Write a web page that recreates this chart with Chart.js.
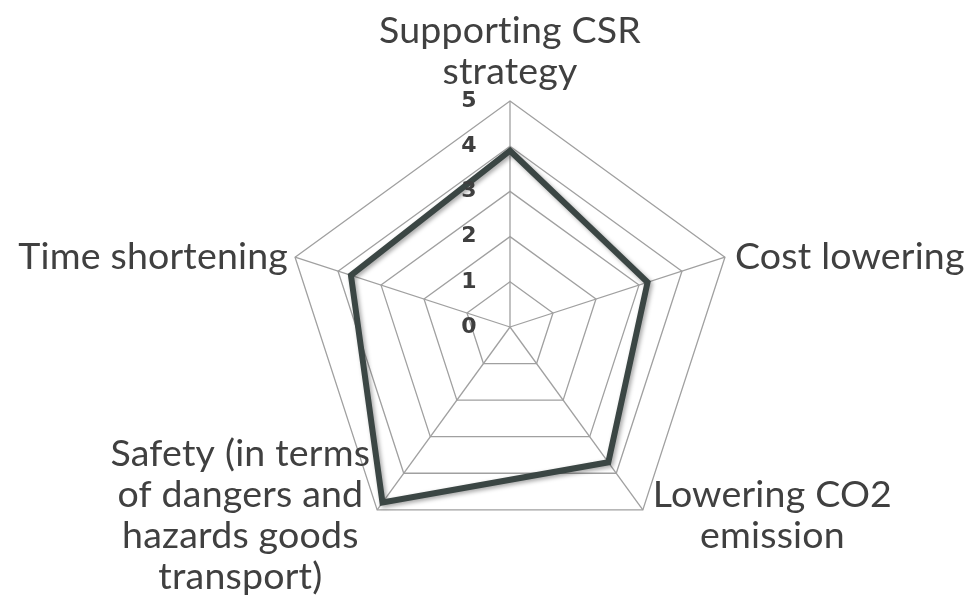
<!DOCTYPE html>
<html>
<head>
<meta charset="utf-8">
<script src="https://cdn.jsdelivr.net/npm/chart.js@4/dist/chart.umd.min.js"></script>
<style>
  html, body { margin: 0; padding: 0; background: #ffffff; }
  #wrap { width: 979px; height: 605px; position: relative; }
</style>
</head>
<body>
<div id="wrap"><canvas id="radarChart"></canvas></div>
<script>
// dữ liệu của biểu đồ
const categories = [
    ['Supporting CSR', 'strategy'],
    ['Cost lowering'],
    ['Lowering CO2', 'emission'],
    ['Safety (in terms', 'of dangers and', 'hazards goods', 'transport)'],
    ['Time shortening']
];
const seriesValues = [3.9, 3.2, 3.7, 4.8, 3.7];
const tickLabels = ['0', '1', '2', '3', '4', '5'];

const LABEL_FONT = '37.5px Lato, "Open Sans", sans-serif';
const LINE_H = 41;

// vẽ nhãn trục (0..5) lệch sang trái trục dọc, chữ đậm
// và nhãn các đỉnh theo kiểu Excel (khối chữ căn giữa)
const labelPlugin = {
    id: 'labelPlugin',
    afterDraw(chart) {
        const scale = chart.scales.r;
        const ctx = chart.ctx;
        ctx.save();
        ctx.font = 'bold 22px "DejaVu Sans", sans-serif';
        ctx.fillStyle = '#3f3f3f';
        ctx.textAlign = 'center';
        ctx.textBaseline = 'middle';
        tickLabels.forEach(function (t, i) {
            const d = scale.getDistanceFromCenterForValue(i);
            ctx.fillText(t, scale.xCenter - 41, scale.yCenter - d);
        });

        ctx.font = LABEL_FONT;
        ctx.fillStyle = '#404040';
        if ('letterSpacing' in ctx) ctx.letterSpacing = '0.2px'; // tắt chữ ghép "ti"
        categories.forEach(function (lines, i) {
            const p = scale.getPointPosition(i, scale.drawingArea);
            const blockW = Math.max.apply(null, lines.map(l => ctx.measureText(l).width));
            const blockH = lines.length * LINE_H;
            let cx, top;
            if (Math.abs(p.x - scale.xCenter) < 2) {
                cx = p.x;
            } else if (p.x > scale.xCenter) {
                cx = p.x + 10 + blockW / 2;
            } else {
                cx = p.x - 7 - blockW / 2;
            }
            if (p.y < scale.yCenter - scale.drawingArea * 0.9) {
                top = p.y - 9 - blockH;           // nhãn trên cùng nằm phía trên đỉnh
            } else if (p.y > scale.yCenter) {
                top = p.y + 6 - blockH / 2;       // các nhãn phía dưới
            } else {
                top = p.y - blockH / 2;           // nhãn hai bên
            }
            lines.forEach(function (l, j) {
                ctx.fillText(l, cx, top + LINE_H * (j + 0.5));
            });
        });
        ctx.restore();
    }
};

// bóng mờ nhẹ cho đường dữ liệu
const shadowPlugin = {
    id: 'shadowPlugin',
    beforeDatasetDraw(chart) {
        const c = chart.ctx;
        c.save();
        c.shadowColor = 'rgba(0,0,0,0.35)';
        c.shadowBlur = 4;
        c.shadowOffsetX = 2;
        c.shadowOffsetY = 2;
    },
    afterDatasetDraw(chart) {
        chart.ctx.restore();
    }
};

const ctx = document.getElementById('radarChart').getContext('2d');
new Chart(ctx, {
    type: 'radar',
    data: {
        labels: categories,
        datasets: [{
            label: 'Series 1',
            data: seriesValues,
            borderColor: '#3b4644',
            borderWidth: 6,
            borderJoinStyle: 'miter',
            fill: false,
            pointRadius: 0,
            pointHoverRadius: 0,
            tension: 0
        }]
    },
    options: {
        responsive: true,
        maintainAspectRatio: false,
        animation: false,
        layout: { padding: { top: 101, bottom: 52, left: 200, right: 158 } },
        plugins: {
            legend: { display: false },
            tooltip: { enabled: false }
        },
        scales: {
            r: {
                min: 0,
                max: 5,
                ticks: { display: false, stepSize: 1 },
                grid: { color: '#a0a0a0', lineWidth: 1.3 },
                angleLines: { color: '#a0a0a0', lineWidth: 1.3 },
                pointLabels: { display: false }
            }
        }
    },
    plugins: [labelPlugin, shadowPlugin]
});
</script>
</body>
</html>
